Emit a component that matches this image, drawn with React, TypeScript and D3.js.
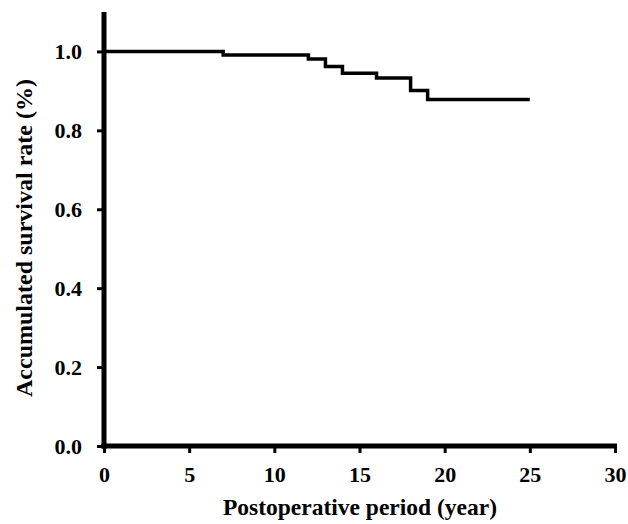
import * as d3 from "d3";
import { useEffect, useRef } from "react";

// survival curve: time (year) at which each step starts, and the rate from there on
const stepYears = [0, 7, 12, 13, 14, 16, 18, 19, 25];
const stepRates = [1.0, 0.991, 0.981, 0.962, 0.945, 0.933, 0.901, 0.878, 0.878];

const xTicks = [0, 5, 10, 15, 20, 25, 30];
const yTicks = [0, 0.2, 0.4, 0.6, 0.8, 1.0];

const xTitle = "Postoperative period (year)";
const yTitle = "Accumulated survival rate (%)";

export default function App() {
  const ref = useRef<SVGSVGElement>(null);

  useEffect(() => {
    const svg = d3.select(ref.current);
    svg.selectAll("*").remove();

    const W = 628,
      H = 524;
    const left = 104,
      right = 615,
      top = 12,
      bottom = 446;
    const font = "'Liberation Serif', 'Times New Roman', serif";

    const x = d3.scaleLinear().domain([0, 30]).range([left, right]);
    const y = d3.scaleLinear().domain([0, 1.1]).range([bottom, top]);

    svg.attr("width", W).attr("height", H);

    // curve
    const pts = stepYears.map((d, i) => [d, stepRates[i]] as [number, number]);
    const line = d3
      .line<[number, number]>()
      .x((d) => x(d[0]))
      .y((d) => y(d[1]))
      .curve(d3.curveStepAfter);
    svg
      .append("path")
      .attr("d", line(pts))
      .attr("fill", "none")
      .attr("stroke", "#000")
      .attr("stroke-width", 3.5);

    // x axis
    const gx = svg
      .append("g")
      .attr("transform", "translate(0," + bottom + ")")
      .call(d3.axisBottom(x).tickValues(xTicks).tickSize(7).tickPadding(13).tickSizeOuter(0));
    gx.select(".domain").attr("stroke-width", 5).attr("d", "M" + (left - 2.5) + ",0H" + (right + 2));
    gx.selectAll(".tick line").attr("stroke-width", 3);
    gx.selectAll(".tick text")
      .attr("font-family", font)
      .attr("font-weight", "bold")
      .attr("font-size", 22)
      .attr("fill", "#000");

    // y axis
    const gy = svg
      .append("g")
      .attr("transform", "translate(" + left + ",0)")
      .call(
        d3
          .axisLeft(y)
          .tickValues(yTicks)
          .tickSize(7)
          .tickPadding(15)
          .tickSizeOuter(0)
          .tickFormat(d3.format(".1f"))
      );
    gy.select(".domain").attr("stroke-width", 5).attr("d", "M0," + (bottom + 2.5) + "V" + top);
    gy.selectAll(".tick line").attr("stroke-width", 3);
    gy.selectAll(".tick text")
      .attr("font-family", font)
      .attr("font-weight", "bold")
      .attr("font-size", 22)
      .attr("fill", "#000");

    // titles
    svg
      .append("text")
      .attr("x", 360)
      .attr("y", 515)
      .attr("text-anchor", "middle")
      .attr("font-family", font)
      .attr("font-weight", "bold")
      .attr("font-size", 23.5)
      .text(xTitle);

    svg
      .append("text")
      .attr("transform", "translate(32,238) rotate(-90)")
      .attr("text-anchor", "middle")
      .attr("font-family", font)
      .attr("font-weight", "bold")
      .attr("font-size", 24)
      .text(yTitle);
  }, []);

  return <svg ref={ref} style={{ display: "block", position: "absolute", left: 0, top: 0 }}></svg>;
}
